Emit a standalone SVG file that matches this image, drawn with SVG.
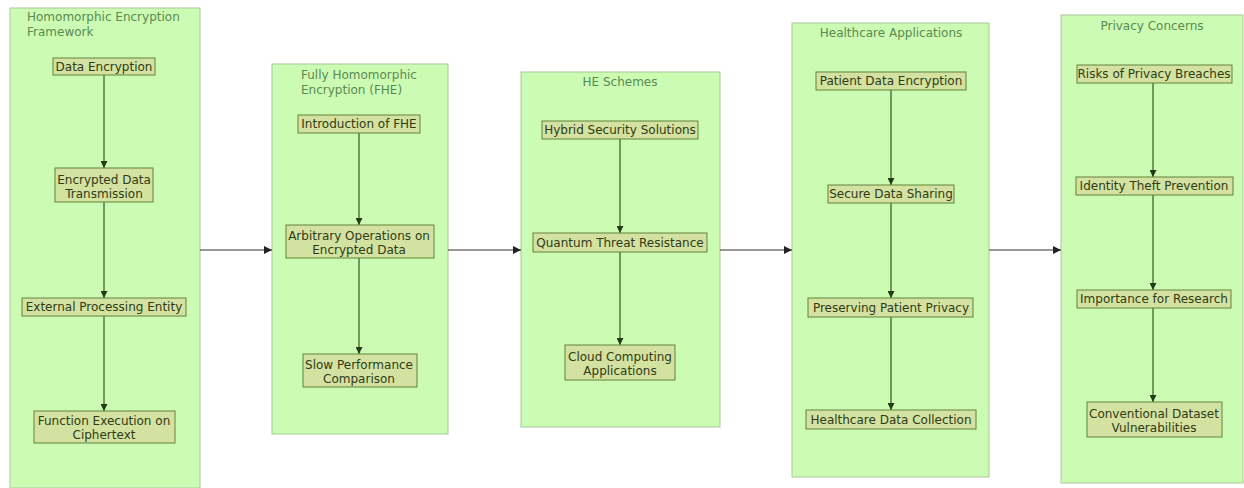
<svg xmlns="http://www.w3.org/2000/svg" width="1244" height="488" viewBox="0 0 1244 488">
  <style>
    .cluster { fill: #ccfbb3; stroke: #a9c99a; stroke-width: 1; }
    .ctitle { font-family: "DejaVu Sans", Verdana, sans-serif; font-size: 12px; fill: #5a8a52; }
    .node rect { fill: #d3e2a0; stroke: #62823a; stroke-width: 1; }
    .node text { font-family: "DejaVu Sans", Verdana, sans-serif; font-size: 12px; fill: #2f3a16; text-anchor: middle; }
    .inner { stroke: #2f5a22; stroke-width: 1.2; fill: none; marker-end: url(#arrGreen); }
    .outer { stroke: #333333; stroke-width: 1.2; fill: none; marker-end: url(#arrDark); }
  </style>
  <defs>
    <marker id="arrGreen" viewBox="0 0 10 10" refX="10" refY="5" markerWidth="7" markerHeight="7" orient="auto" markerUnits="userSpaceOnUse">
      <path d="M0,0 L10,5 L0,10 z" fill="#1f3d16"/>
    </marker>
    <marker id="arrDark" viewBox="0 0 10 10" refX="10" refY="5" markerWidth="8" markerHeight="8" orient="auto" markerUnits="userSpaceOnUse">
      <path d="M0,0 L10,5 L0,10 z" fill="#222222"/>
    </marker>
  </defs>

  <rect width="1244" height="488" fill="#ffffff"/>

  <!-- Clusters -->
  <g id="cluster-framework">
    <rect class="cluster" x="10" y="8" width="190" height="480"/>
    <text class="ctitle" x="27" y="21">Homomorphic Encryption</text>
    <text class="ctitle" x="27" y="36">Framework</text>
  </g>
  <g id="cluster-fhe">
    <rect class="cluster" x="272" y="64" width="176" height="370"/>
    <text class="ctitle" x="301" y="79">Fully Homomorphic</text>
    <text class="ctitle" x="301" y="94">Encryption (FHE)</text>
  </g>
  <g id="cluster-schemes">
    <rect class="cluster" x="521" y="72" width="199" height="355"/>
    <text class="ctitle" x="620" y="86" text-anchor="middle">HE Schemes</text>
  </g>
  <g id="cluster-healthcare">
    <rect class="cluster" x="792" y="23" width="197" height="454"/>
    <text class="ctitle" x="891" y="37" text-anchor="middle">Healthcare Applications</text>
  </g>
  <g id="cluster-privacy">
    <rect class="cluster" x="1061" y="15" width="182" height="468"/>
    <text class="ctitle" x="1152" y="30" text-anchor="middle">Privacy Concerns</text>
  </g>

  <!-- Connectors -->
  <g id="connectors">
    <line class="inner" x1="104" y1="75" x2="104" y2="168"/>
    <line class="inner" x1="104" y1="202" x2="104" y2="298"/>
    <line class="inner" x1="104" y1="316" x2="104" y2="411"/>

    <line class="inner" x1="359" y1="133" x2="359" y2="225"/>
    <line class="inner" x1="359" y1="258" x2="359" y2="354"/>

    <line class="inner" x1="620" y1="139" x2="620" y2="233"/>
    <line class="inner" x1="620" y1="252" x2="620" y2="345"/>

    <line class="inner" x1="891" y1="90" x2="891" y2="185"/>
    <line class="inner" x1="891" y1="203" x2="891" y2="298"/>
    <line class="inner" x1="891" y1="317" x2="891" y2="410"/>

    <line class="inner" x1="1153" y1="83" x2="1153" y2="177"/>
    <line class="inner" x1="1153" y1="195" x2="1153" y2="290"/>
    <line class="inner" x1="1153" y1="308" x2="1153" y2="402"/>

    <line class="outer" x1="200" y1="250" x2="272" y2="250"/>
    <line class="outer" x1="448" y1="250" x2="521" y2="250"/>
    <line class="outer" x1="720" y1="250" x2="792" y2="250"/>
    <line class="outer" x1="989" y1="250" x2="1061" y2="250"/>
  </g>

  <!-- Nodes: Homomorphic Encryption Framework -->
  <g id="data-encryption" class="node">
    <rect x="53" y="58" width="102" height="17"/>
    <text x="104" y="71">Data Encryption</text>
  </g>
  <g id="encrypted-data-transmission" class="node">
    <rect x="55" y="168" width="98" height="34"/>
    <text x="104" y="184">Encrypted Data</text>
    <text x="104" y="198">Transmission</text>
  </g>
  <g id="external-processing-entity" class="node">
    <rect x="22" y="298" width="164" height="18"/>
    <text x="104" y="311">External Processing Entity</text>
  </g>
  <g id="function-execution" class="node">
    <rect x="34" y="411" width="141" height="32"/>
    <text x="104" y="425">Function Execution on</text>
    <text x="104" y="439">Ciphertext</text>
  </g>

  <!-- Nodes: Fully Homomorphic Encryption -->
  <g id="introduction-fhe" class="node">
    <rect x="298" y="115" width="122" height="18"/>
    <text x="359" y="128">Introduction of FHE</text>
  </g>
  <g id="arbitrary-operations" class="node">
    <rect x="286" y="225" width="148" height="33"/>
    <text x="359" y="240">Arbitrary Operations on</text>
    <text x="359" y="254">Encrypted Data</text>
  </g>
  <g id="slow-performance" class="node">
    <rect x="303" y="354" width="114" height="33"/>
    <text x="359" y="369">Slow Performance</text>
    <text x="359" y="383">Comparison</text>
  </g>

  <!-- Nodes: HE Schemes -->
  <g id="hybrid-security" class="node">
    <rect x="542" y="121" width="156" height="18"/>
    <text x="620" y="134">Hybrid Security Solutions</text>
  </g>
  <g id="quantum-threat" class="node">
    <rect x="533" y="233" width="174" height="19"/>
    <text x="620" y="247">Quantum Threat Resistance</text>
  </g>
  <g id="cloud-computing" class="node">
    <rect x="565" y="345" width="110" height="35"/>
    <text x="620" y="361">Cloud Computing</text>
    <text x="620" y="375">Applications</text>
  </g>

  <!-- Nodes: Healthcare Applications -->
  <g id="patient-data-encryption" class="node">
    <rect x="816" y="72" width="150" height="18"/>
    <text x="891" y="85">Patient Data Encryption</text>
  </g>
  <g id="secure-data-sharing" class="node">
    <rect x="828" y="185" width="126" height="18"/>
    <text x="891" y="198">Secure Data Sharing</text>
  </g>
  <g id="preserving-patient-privacy" class="node">
    <rect x="808" y="298" width="165" height="19"/>
    <text x="891" y="312">Preserving Patient Privacy</text>
  </g>
  <g id="healthcare-data-collection" class="node">
    <rect x="806" y="410" width="170" height="19"/>
    <text x="891" y="424">Healthcare Data Collection</text>
  </g>

  <!-- Nodes: Privacy Concerns -->
  <g id="risks-privacy-breaches" class="node">
    <rect x="1077" y="65" width="155" height="18"/>
    <text x="1154" y="78">Risks of Privacy Breaches</text>
  </g>
  <g id="identity-theft-prevention" class="node">
    <rect x="1076" y="177" width="157" height="18"/>
    <text x="1154" y="190">Identity Theft Prevention</text>
  </g>
  <g id="importance-research" class="node">
    <rect x="1077" y="290" width="154" height="18"/>
    <text x="1154" y="303">Importance for Research</text>
  </g>
  <g id="conventional-dataset" class="node">
    <rect x="1087" y="402" width="135" height="35"/>
    <text x="1154" y="418">Conventional Dataset</text>
    <text x="1154" y="432">Vulnerabilities</text>
  </g>
</svg>
